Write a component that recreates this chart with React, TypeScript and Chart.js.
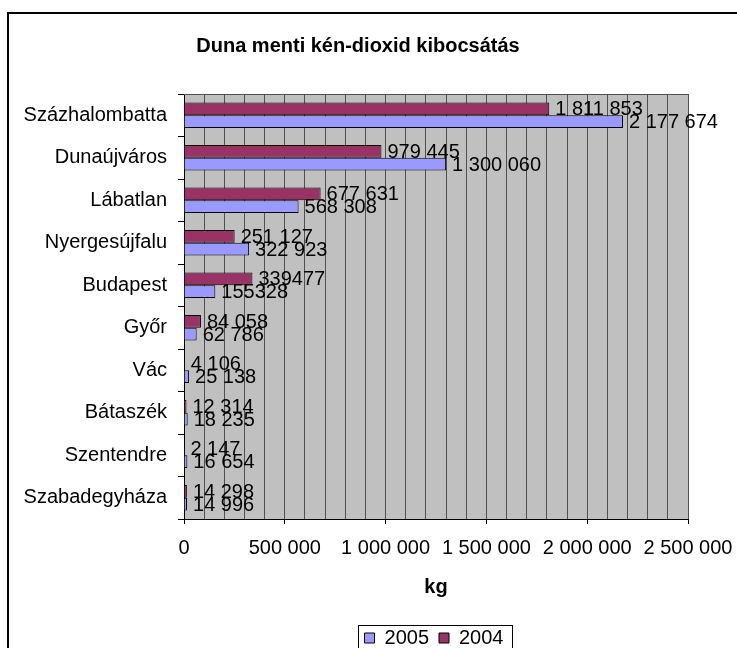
import React, { useEffect, useRef } from 'react';
import { Chart, registerables } from 'chart.js';

Chart.register(...registerables);

const FONT = "'Liberation Sans', Arial, sans-serif";

const titleText = 'Duna menti kén-dioxid kibocsátás';
const axisTitle = 'kg';
const categories = [
  'Százhalombatta',
  'Dunaújváros',
  'Lábatlan',
  'Nyergesújfalu',
  'Budapest',
  'Győr',
  'Vác',
  'Bátaszék',
  'Szentendre',
  'Szabadegyháza',
];
const values2004 = [1811853, 979445, 677631, 251127, 339477, 84058, 4106, 12314, 2147, 14298];
const values2005 = [2177674, 1300060, 568308, 322923, 155328, 62786, 25138, 18235, 16654, 14996];
const labels2004 = ['1 811 853', '979 445', '677 631', '251 127', '339477', '84 058', '4 106', '12 314', '2 147', '14 298'];
const labels2005 = ['2 177 674', '1 300 060', '568 308', '322 923', '155328', '62 786', '25 138', '18 235', '16 654', '14 996'];
const xTickLabels = ['0', '500 000', '1 000 000', '1 500 000', '2 000 000', '2 500 000'];
const X_MAX = 2500000;
const MINOR_STEP = 100000;
const MAJOR_STEP = 500000;

const decor = {
  id: 'decor',
  afterLayout(chart: any) {
    const tb = chart.titleBlock;
    if (tb) {
      const d = 358 - (tb.left + tb.right) / 2;
      tb.left += d;
      tb.right += d;
    }
    const lg = chart.legend;
    if (lg) {
      const d = 434 - (lg.left + lg.right) / 2;
      lg.left += d;
      lg.right += d;
    }
  },
  beforeDraw(chart: any) {
    const { ctx, chartArea: a } = chart;
    ctx.save();
    ctx.fillStyle = '#ffffff';
    ctx.fillRect(0, 0, chart.width, chart.height);
    ctx.fillStyle = '#C0C0C0';
    ctx.fillRect(a.left, a.top, a.right - a.left, a.bottom - a.top);
    ctx.restore();
  },
  afterDatasetsDraw(chart: any) {
    const ctx = chart.ctx;
    const sets = [labels2004, labels2005];
    ctx.save();
    ctx.font = `20px ${FONT}`;
    ctx.fillStyle = '#000';
    ctx.textBaseline = 'middle';
    ctx.textAlign = 'left';
    chart.data.datasets.forEach((_ds: any, i: number) => {
      const meta = chart.getDatasetMeta(i);
      meta.data.forEach((el: any, j: number) => {
        ctx.fillText(sets[i][j], el.x + 6, el.y + 1);
      });
    });
    ctx.restore();
  },
  afterDraw(chart: any) {
    const { ctx, chartArea: a } = chart;
    ctx.save();
    // plot area top border
    ctx.strokeStyle = '#505050';
    ctx.lineWidth = 1;
    ctx.beginPath();
    ctx.moveTo(a.left, a.top + 0.5);
    ctx.lineTo(a.right + 0.5, a.top + 0.5);
    ctx.stroke();
    // legend border
    const lg = chart.legend;
    if (lg && lg.legendHitBoxes && lg.legendHitBoxes.length) {
      const hb = lg.legendHitBoxes;
      const l = Math.min(...hb.map((h: any) => h.left)) - 7;
      const r = Math.max(...hb.map((h: any) => h.left + h.width)) + 8;
      const t = lg.top + 7;
      ctx.strokeStyle = '#000';
      ctx.lineWidth = 1;
      ctx.strokeRect(Math.round(l) + 0.5, Math.round(t) + 0.5, Math.round(r - l), 40);
    }
    // outer chart border
    ctx.strokeStyle = '#000';
    ctx.lineWidth = 2;
    ctx.strokeRect(8, 13, 2000, 2000);
    ctx.restore();
  },
};

export default function App() {
  const ref = useRef<HTMLCanvasElement | null>(null);

  useEffect(() => {
    if (!ref.current) return;
    const chart = new Chart(ref.current, {
      type: 'bar',
      data: {
        labels: categories,
        datasets: [
          {
            label: '2004',
            data: values2004,
            backgroundColor: '#993366',
            borderColor: '#000000',
            borderWidth: 1,
            categoryPercentage: 0.6,
            barPercentage: 1,
          },
          {
            label: '2005',
            data: values2005,
            backgroundColor: '#9999FF',
            borderColor: '#000000',
            borderWidth: 1,
            categoryPercentage: 0.6,
            barPercentage: 1,
          },
        ],
      },
      options: {
        indexAxis: 'y',
        responsive: false,
        maintainAspectRatio: false,
        animation: false,
        layout: { padding: { left: 0, right: 49, top: 0, bottom: 12 } },
        scales: {
          x: {
            type: 'linear',
            position: 'bottom',
            min: 0,
            max: X_MAX,
            title: {
              display: true,
              text: axisTitle,
              color: '#000',
              font: { family: FONT, size: 20, weight: 'bold' },
              padding: { top: 0, bottom: 19 },
            },
            ticks: {
              stepSize: MINOR_STEP,
              autoSkip: false,
              maxRotation: 0,
              padding: 12,
              color: '#000',
              font: { family: FONT, size: 20 },
              callback: (v: any) => (v % MAJOR_STEP === 0 ? xTickLabels[Math.round(v / MAJOR_STEP)] : ''),
            },
            grid: {
              color: '#505050',
              lineWidth: 1,
              tickLength: 5,
              tickColor: (c: any) =>
                c.tick && c.tick.value % MAJOR_STEP === 0 ? '#000000' : 'rgba(0,0,0,0)',
            },
            border: { display: true, color: '#000', width: 1 },
            afterFit: (s: any) => {
              s.height = 99;
              s.paddingLeft = 0;
              s.paddingRight = 0;
            },
          },
          y: {
            type: 'category',
            ticks: {
              color: '#000',
              font: { family: FONT, size: 20 },
              padding: 11,
              autoSkip: false,
            },
            grid: { drawOnChartArea: false, tickLength: 6, color: '#000', offset: true },
            border: { display: true, color: '#000', width: 1 },
            afterFit: (s: any) => {
              s.width = 184;
            },
          },
        },
        plugins: {
          title: {
            display: true,
            text: titleText,
            color: '#000',
            font: { family: FONT, size: 20, weight: 'bold' },
            padding: { top: 34, bottom: 36 },
          },
          legend: {
            display: true,
            position: 'bottom',
            reverse: true,
            labels: {
              boxWidth: 10,
              boxHeight: 10,
              padding: 10,
              color: '#000',
              font: { family: FONT, size: 20 },
            },
          },
          tooltip: { enabled: false },
        },
      },
      plugins: [decor],
    } as any);
    return () => chart.destroy();
  }, []);

  return (
    <div
      style={{
        position: 'absolute',
        left: 0,
        top: 0,
        width: 737,
        height: 648,
        overflow: 'hidden',
        background: '#fff',
      }}
    >
      <canvas ref={ref} width={737} height={670} style={{ display: 'block' }} />
    </div>
  );
}
